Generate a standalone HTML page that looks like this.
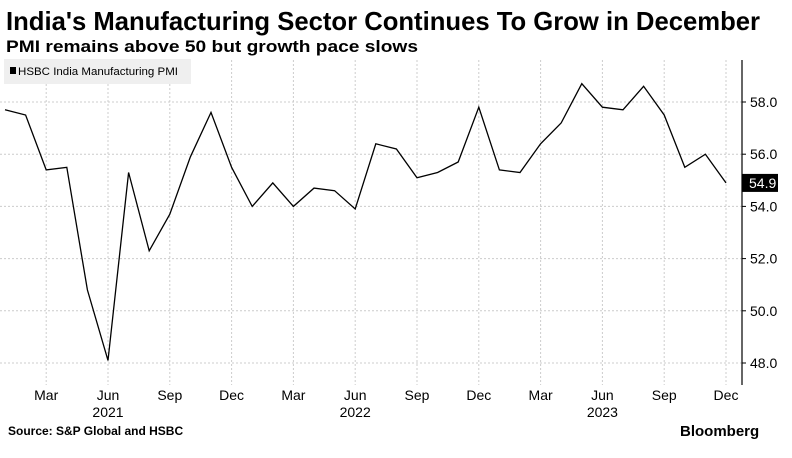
<!DOCTYPE html>
<html><head><meta charset="utf-8"><style>
body{margin:0;width:792px;height:453px;background:#fff;overflow:hidden;font-family:"Liberation Sans",sans-serif;}
svg text{font-family:"Liberation Sans",sans-serif;}
</style></head><body>
<svg width="792" height="453">
<text x="6" y="30" font-size="26" font-weight="bold" textLength="754" lengthAdjust="spacingAndGlyphs">India's Manufacturing Sector Continues To Grow in December</text>
<text x="6" y="52" font-size="17" font-weight="bold" textLength="412" lengthAdjust="spacingAndGlyphs">PMI remains above 50 but growth pace slows</text>
<g id="grid"></g>
<rect x="4" y="59" width="187" height="25" fill="#efefef"/>
<rect x="10" y="67" width="6" height="7" fill="#000"/>
<text x="18" y="75" font-size="11" textLength="160" lengthAdjust="spacingAndGlyphs">HSBC India Manufacturing PMI</text>
<line x1="742" y1="60" x2="742" y2="385" stroke="#000" stroke-width="1.2"/>
<g id="yticks"></g><g id="xticks"></g>
<path id="line" fill="none" stroke="#000" stroke-width="1.3"/>
<g id="lastlabel"></g>
<text x="8" y="435" font-size="12" font-weight="bold">Source: S&amp;P Global and HSBC</text>
<text x="680" y="436" font-size="15" font-weight="bold">Bloomberg</text>
</svg>
<script>
const months=["Jan21","Feb21","Mar21","Apr21","May21","Jun21","Jul21","Aug21","Sep21","Oct21","Nov21","Dec21","Jan22","Feb22","Mar22","Apr22","May22","Jun22","Jul22","Aug22","Sep22","Oct22","Nov22","Dec22","Jan23","Feb23","Mar23","Apr23","May23","Jun23","Jul23","Aug23","Sep23","Oct23","Nov23","Dec23"];
const pmi=[57.7,57.5,55.4,55.5,50.8,48.1,55.3,52.3,53.7,55.9,57.6,55.5,54.0,54.9,54.0,54.7,54.6,53.9,56.4,56.2,55.1,55.3,55.7,57.8,55.4,55.3,56.4,57.2,58.7,57.8,57.7,58.6,57.5,55.5,56.0,54.9];
const yTicks=[48,50,52,54,56,58];
const xTickIdx=[2,5,8,11,14,17,20,23,26,29,32,35];
const xTickLabels=["Mar","Jun","Sep","Dec","Mar","Jun","Sep","Dec","Mar","Jun","Sep","Dec"];
const yearIdx=[5,17,29];
const yearLabels=["2021","2022","2023"];
const X=i=>5+i*(726-5)/35;
const Y=v=>363-(v-48)*26.1;
const ns="http://www.w3.org/2000/svg";
function mk(tag,attrs,parent,txt){const e=document.createElementNS(ns,tag);for(const k in attrs)e.setAttribute(k,attrs[k]);if(txt!=null)e.textContent=txt;document.getElementById(parent).appendChild(e);return e;}
yTicks.forEach(v=>{
 const g=mk("line",{x1:0,x2:742,y1:Y(v),y2:Y(v),stroke:"#ccc","stroke-dasharray":"2,2"},"grid");
 
 
 const t=mk("line",{x1:742,x2:746,y1:Y(v),y2:Y(v),stroke:"#000"},"yticks");
 
 
 const l=mk("text",{x:750,y:Y(v)+5,"font-size":"14"},"yticks",v.toFixed(1));
 
 
});
xTickIdx.forEach((i,k)=>{
 const g=mk("line",{x1:X(i),x2:X(i),y1:60,y2:385,stroke:"#ccc","stroke-dasharray":"2,2"},"grid");
 
 
 const l=mk("text",{x:X(i),y:400,"font-size":"14","text-anchor":"middle"},"xticks",xTickLabels[k]);
 
 
});
yearIdx.forEach((i,k)=>{
 const l=mk("text",{x:X(i),y:417,"font-size":"14","text-anchor":"middle"},"xticks",yearLabels[k]);
 
 
});
document.getElementById("line").setAttribute("d",pmi.map((v,i)=>(i?"L":"M")+X(i).toFixed(1)+","+Y(v).toFixed(1)).join(""));
const last=pmi[pmi.length-1];
const bg=mk("rect",{x:742,y:Y(last)-9,width:36,height:18,fill:"#000"},"lastlabel");


const lt=mk("text",{x:749,y:Y(last)+5,"font-size":"14",fill:"#fff"},"lastlabel",last.toFixed(1));


</script>
</body></html>
